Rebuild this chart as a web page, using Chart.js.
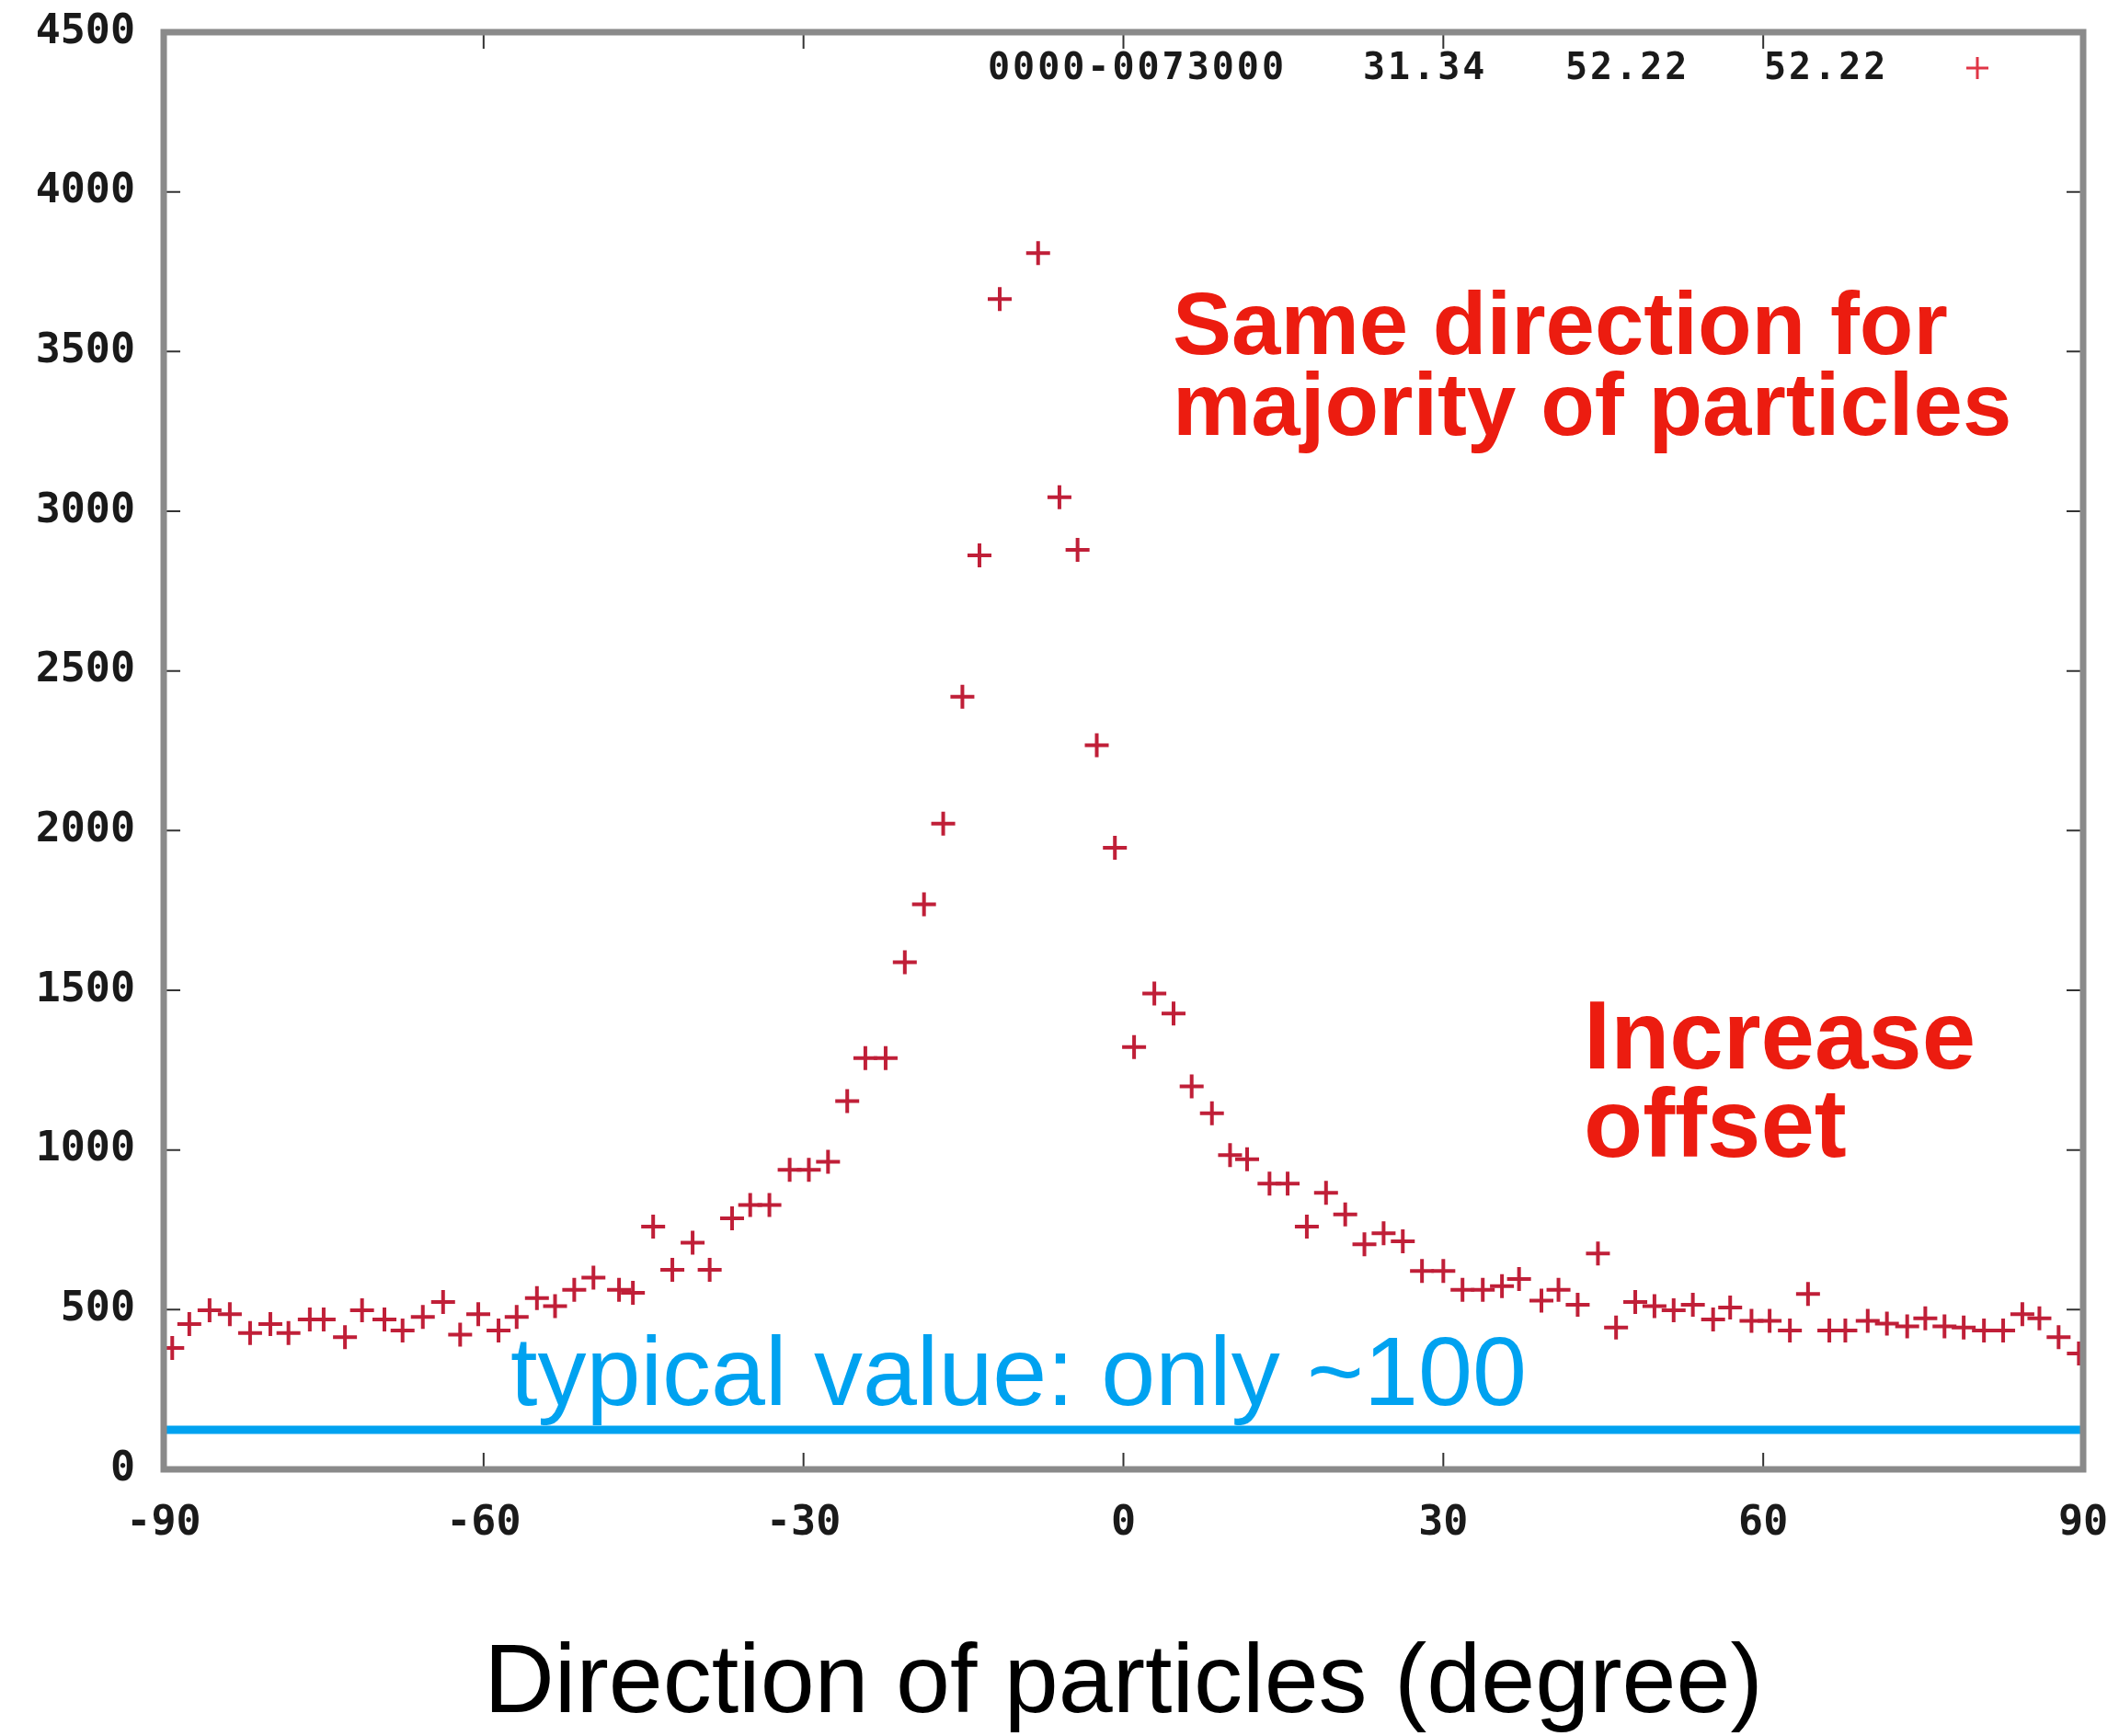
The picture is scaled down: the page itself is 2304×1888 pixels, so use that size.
<!DOCTYPE html>
<html>
<head>
<meta charset="utf-8">
<script src="https://cdn.jsdelivr.net/npm/chart.js@4.4.1/dist/chart.umd.min.js"></script>
<style>
  html, body { margin: 0; padding: 0; background: #fff; }
  canvas { display: block; }
</style>
</head>
<body>
<canvas id="partChart" width="2304" height="1888"></canvas>
<script>
// angle bins (degree) and counts
const angles = [-89.2, -87.6, -85.7, -83.8, -81.9, -80, -78.3, -76.3, -75, -73,
  -71.4, -69.3, -67.6, -65.7, -63.8, -62.2, -60.5, -58.6, -56.9, -55,
  -53.3, -51.5, -49.7, -47.3, -46, -44.1, -42.3, -40.4, -38.8, -36.7, -35,
  -33.2, -31.3, -29.5, -27.7, -25.9, -24.2, -22.3, -20.5, -18.7, -16.9,
  -15.1, -13.5, -11.6, -8, -6, -4.3, -2.5, -0.8,
  1, 2.9, 4.7, 6.4, 8.3, 10, 11.6, 13.7, 15.4, 17.2,
  19, 20.8, 22.6, 24.4, 26.2, 28, 30, 31.8, 33.7, 35.5,
  37.1, 39.2, 40.8, 42.6, 44.5, 46.2, 48, 49.8, 51.6, 53.4,
  55.3, 56.9, 58.9, 60.6, 62.5, 64.2, 66.2, 67.7, 69.8, 71.6,
  73.5, 75.2, 77, 78.8, 80.7, 82.5, 84.3, 85.9, 87.7, 89.6];
const counts = [380, 455, 498, 486, 427, 455, 427, 469, 469, 414,
  498, 469, 435, 477, 524, 422, 486, 435, 477, 536,
  511, 562, 600, 562, 553, 760, 625, 710, 625, 786, 828,
  828, 938, 938, 963, 1153, 1288, 1288, 1588, 1769, 2022,
  2419, 2862, 3664, 3808, 3044, 2879, 2267, 1946,
  1322, 1490, 1427, 1199, 1115, 984, 971, 895, 895, 760,
  866, 798, 705, 739, 714, 621, 621, 562, 562, 574,
  596, 528, 562, 515, 676, 444, 524, 511, 498, 515,
  469, 507, 465, 465, 435, 549, 435, 435, 465, 456,
  448, 473, 448, 444, 435, 435, 486, 473, 414, 363];

// the blue "typical value" band
const typicalX = [-90, 90];
const typicalY = [124, 124];

const xTicks = [-90, -60, -30, 0, 30, 60, 90];
const yTicks = [0, 500, 1000, 1500, 2000, 2500, 3000, 3500, 4000, 4500];

const legendParts = ['0000-0073000', '31.34', '52.22', '52.22'];
const xTitle = 'Direction of particles (degree)';
const noteTop = ['Same direction for', 'majority of particles'];
const noteRight = ['Increase', 'offset'];
const noteBlue = 'typical value: only ~100';

const RED = '#ec1c10';
const BLUE = '#00a2f0';
const tickFont = { family: 'DejaVu Sans Mono', size: 45, weight: 'bold' };

// frame, inner ticks, gnuplot style key and the notes
const decor = {
  id: 'decor',
  afterDraw(chart) {
    const ctx = chart.ctx;
    const a = chart.chartArea;
    const sx = chart.scales.x, sy = chart.scales.y;
    ctx.save();

    // inner tick marks on all four sides
    ctx.strokeStyle = '#333';
    ctx.lineWidth = 2;
    ctx.beginPath();
    xTicks.forEach(v => {
      const px = sx.getPixelForValue(v);
      ctx.moveTo(px, a.bottom); ctx.lineTo(px, a.bottom - 18);
      ctx.moveTo(px, a.top); ctx.lineTo(px, a.top + 18);
    });
    yTicks.forEach(v => {
      const py = sy.getPixelForValue(v);
      ctx.moveTo(a.left, py); ctx.lineTo(a.left + 18, py);
      ctx.moveTo(a.right, py); ctx.lineTo(a.right - 18, py);
    });
    ctx.stroke();

    // frame
    ctx.strokeStyle = '#8a8a8a';
    ctx.lineWidth = 7;
    ctx.strokeRect(a.left, a.top, a.right - a.left, a.bottom - a.top);

    // key
    ctx.fillStyle = '#1a1a1a';
    ctx.font = 'bold 40px "DejaVu Sans Mono"';
    ctx.letterSpacing = '3px';
    ctx.textBaseline = 'middle';
    ctx.textAlign = 'left';
    const keyX = [1074, 1482, 1702, 1918];
    legendParts.forEach((t, i) => ctx.fillText(t, keyX[i], 76));
    ctx.letterSpacing = '0px';
    ctx.strokeStyle = '#e03545';
    ctx.lineWidth = 3;
    ctx.beginPath();
    ctx.moveTo(2138, 74); ctx.lineTo(2162, 74);
    ctx.moveTo(2150, 62); ctx.lineTo(2150, 86);
    ctx.stroke();

    // notes
    ctx.textBaseline = 'alphabetic';
    ctx.fillStyle = RED;
    ctx.font = 'bold 96px "Liberation Sans", Arial, sans-serif';
    ctx.fillText(noteTop[0], 1275, 385);
    ctx.fillText(noteTop[1], 1275, 473);
    ctx.font = 'bold 105px "Liberation Sans", Arial, sans-serif';
    ctx.fillText(noteRight[0], 1722, 1162);
    ctx.fillText(noteRight[1], 1722, 1258);
    ctx.fillStyle = BLUE;
    ctx.font = '106px "Liberation Sans", Arial, sans-serif';
    ctx.fillText(noteBlue, 555, 1528);

    ctx.restore();
  }
};

const ctx = document.getElementById('partChart').getContext('2d');

new Chart(ctx, {
  type: 'scatter',
  data: {
    datasets: [{
      label: legendParts.join('   '),
      data: angles.map((x, i) => ({ x: x, y: counts[i] })),
      pointStyle: 'cross',
      pointRadius: 13,
      pointBorderWidth: 4,
      pointBorderColor: '#c01f38',
      pointBackgroundColor: '#c01f38',
      showLine: false,
      order: 1
    }, {
      label: 'typical',
      type: 'line',
      data: typicalX.map((x, i) => ({ x: x, y: typicalY[i] })),
      borderColor: BLUE,
      borderWidth: 9,
      pointRadius: 0,
      fill: false,
      order: 2
    }]
  },
  options: {
    responsive: false,
    animation: false,
    devicePixelRatio: 1,
    layout: { padding: { top: 35, right: 39, left: 0, bottom: 0 } },
    plugins: {
      legend: { display: false },
      tooltip: { enabled: false }
    },
    scales: {
      x: {
        type: 'linear',
        min: -90,
        max: 90,
        afterBuildTicks: s => { s.ticks = xTicks.map(v => ({ value: v })); },
        afterFit: s => { s.height = 290; s.paddingLeft = 0; s.paddingRight = 0; },
        grid: { display: false, drawTicks: false },
        border: { display: false },
        ticks: { font: tickFont, color: '#1a1a1a', padding: 32, maxRotation: 0, callback: v => String(v) },
        title: {
          display: true,
          text: xTitle,
          color: '#000',
          font: { family: 'Liberation Sans', size: 106, lineHeight: 1.0 },
          padding: { top: 0, bottom: 2 }
        }
      },
      y: {
        min: 0,
        max: 4500,
        afterBuildTicks: s => { s.ticks = yTicks.map(v => ({ value: v })); },
        afterFit: s => { s.width = 178; s.paddingTop = 0; s.paddingBottom = 0; },
        grid: { display: false, drawTicks: false },
        border: { display: false },
        ticks: { font: tickFont, color: '#1a1a1a', padding: 31, callback: v => String(v) }
      }
    }
  },
  plugins: [decor]
});
</script>
</body>
</html>
